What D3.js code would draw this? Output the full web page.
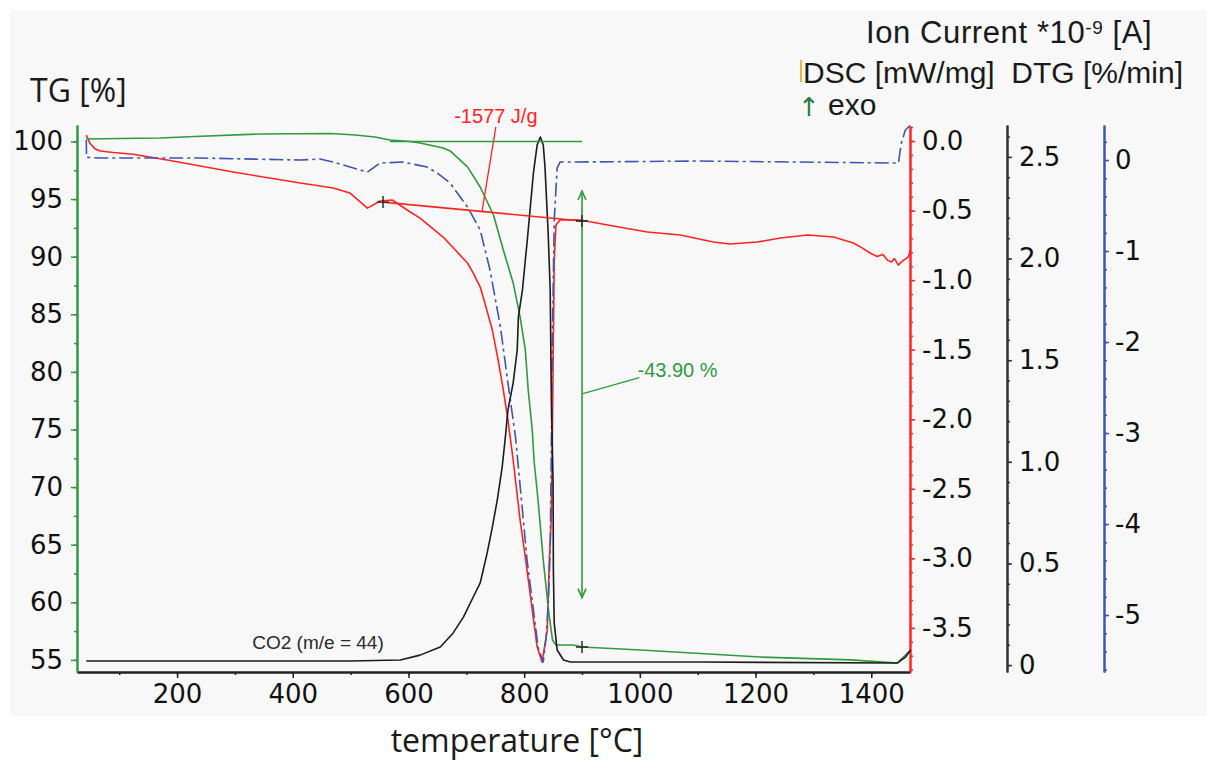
<!DOCTYPE html>
<html>
<head>
<meta charset="utf-8">
<script src="https://cdn.jsdelivr.net/npm/d3@7"></script>
<style>
  body { margin: 0; background: #ffffff; }
  .tick text { font-family: "DejaVu Sans", sans-serif; font-size: 26px; fill: #111; }
</style>
</head>
<body>
<div class="chart"></div>
<script>

// Data (temperature in degC)

var tgTemp = [43, 102, 171, 231, 344, 465, 508, 542, 568, 603, 620, 660, 672, 702, 724, 747, 764, 781, 793, 802, 807, 814, 817, 824, 833, 842, 849, 855, 885, 900, 1001, 1208, 1364, 1445, 1468];
var tgValue = [100.22, 100.26, 100.30, 100.43, 100.65, 100.69, 100.56, 100.39, 100.13, 100.0, 99.87, 99.44, 99.18, 97.79, 96.05, 93.62, 90.58, 87.72, 84.77, 81.90, 78.43, 74.96, 72.35, 68.88, 63.67, 59.33, 56.73, 56.29, 56.29, 56.12, 55.86, 55.25, 55.0, 54.73, 55.86];

var dscTemp = [43, 50, 58, 67, 90, 124, 183, 297, 413, 470, 499, 529, 551, 572, 603, 620, 660, 702, 712, 724, 729, 745, 755, 764, 772, 781, 793, 802, 814, 822.5, 831, 840, 843, 847, 848.5, 850.3, 852, 855, 862, 897, 954, 1013, 1070, 1127, 1156, 1203, 1243, 1290, 1335, 1369, 1385, 1398, 1410, 1420, 1428, 1435, 1440, 1447, 1452, 1456, 1464, 1468];
var dscValue = [0.043, -0.020, -0.055, -0.072, -0.083, -0.095, -0.137, -0.223, -0.302, -0.338, -0.374, -0.482, -0.431, -0.424, -0.510, -0.554, -0.690, -0.877, -0.949, -1.050, -1.120, -1.359, -1.574, -1.790, -2.006, -2.293, -2.725, -2.991, -3.372, -3.638, -3.746, -3.515, -3.063, -2.703, -2.221, -1.503, -0.855, -0.604, -0.568, -0.568, -0.611, -0.654, -0.676, -0.726, -0.740, -0.726, -0.697, -0.676, -0.690, -0.733, -0.770, -0.805, -0.830, -0.815, -0.856, -0.870, -0.845, -0.892, -0.870, -0.856, -0.834, -0.784];

var dtgTemp = [43, 43.5, 67, 240, 413, 447, 470, 499, 529, 551, 591, 632, 650, 672, 702, 724, 741, 759, 772, 785, 797, 805, 816, 824, 833, 838, 842, 845, 847, 848.5, 852, 857, 862, 885, 1104, 1442, 1447, 1452, 1459, 1468];
var dtgValue = [0.22, 0.03, 0.022, 0.022, 0, 0.011, -0.022, -0.077, -0.132, -0.033, -0.022, -0.077, -0.143, -0.253, -0.516, -0.769, -1.209, -1.835, -2.451, -3.044, -3.846, -4.396, -4.945, -5.352, -5.516, -5.242, -4.835, -4.286, -3.187, -2.088, -0.659, -0.088, -0.022, -0.022, -0.011, -0.033, -0.033, 0.187, 0.330, 0.385];

var ionTemp = [43, 153, 326, 499, 586, 620, 655, 677, 695, 712, 724, 736, 745, 753.5, 762, 767, 772, 781, 788, 790, 797, 802, 805, 816, 822.5, 828, 833, 836, 841.5, 845, 847, 850, 850.5, 852, 857, 868, 880, 1104, 1445, 1459, 1468];
var ionValue = [0.020, 0.020, 0.020, 0.020, 0.025, 0.049, 0.089, 0.157, 0.236, 0.335, 0.404, 0.551, 0.679, 0.812, 0.974, 1.107, 1.255, 1.388, 1.550, 1.713, 1.845, 1.993, 2.077, 2.421, 2.559, 2.598, 2.559, 2.451, 2.126, 1.845, 1.304, 0.896, 0.468, 0.207, 0.074, 0.025, 0.015, 0.015, 0.010, 0.039, 0.074];

// Tick values
var tempTicks = [200, 400, 600, 800, 1000, 1200, 1400];
var tgTicks = [55, 60, 65, 70, 75, 80, 85, 90, 95, 100];
var dscTicks = [0, -0.5, -1.0, -1.5, -2.0, -2.5, -3.0, -3.5];
var ionTicks = [0, 0.5, 1.0, 1.5, 2.0, 2.5];
var dtgTicks = [0, -1, -2, -3, -4, -5];

// Annotation texts
var dscPeakArea = "-1577 J/g";
var tgStep = "-43.90 %";
var ionLabel = "CO2 (m/e = 44)";

var svgWidth = 1207;
var svgHeight = 760;

var plot = { left: 77, right: 910, top: 125, bottom: 672 };

var green = "#2f9a3f";
var red = "#ff2424";
var blue = "#4153b4";
var black = "#1c1c1c";

var svg = d3.select(".chart")
    .append("svg")
    .attr("width", svgWidth)
    .attr("height", svgHeight);

svg.append("rect")
    .attr("x", 10)
    .attr("y", 10)
    .attr("width", svgWidth - 10)
    .attr("height", 706)
    .attr("fill", "#f8f8f8");

// Scales

var xScale = d3.scaleLinear().domain([27, 1467]).range([plot.left, plot.right]);
var tgScale = d3.scaleLinear().domain([53.95, 101.43]).range([plot.bottom, plot.top]);
var dscScale = d3.scaleLinear().domain([-3.817, 0.108]).range([plot.bottom, 126]);
var ionScale = d3.scaleLinear().domain([-0.034, 2.657]).range([plot.bottom, plot.top]);
var dtgScale = d3.scaleLinear().domain([-5.626, 0.385]).range([plot.bottom, plot.top]);

// plain hyphen instead of the unicode minus d3 uses
function fmt(spec) {
    var f = d3.format(spec);
    return function(d) { return f(d).replace("\u2212", "-"); };
}

function minorTicks(lo, hi, step) {
    var out = [];
    for (var v = lo; v <= hi + 1e-9; v += step) out.push(+v.toFixed(3));
    return out;
}

function styleAxis(g, color) {
    g.select(".domain").attr("stroke", color).attr("stroke-width", 2);
    g.selectAll(".tick line").attr("stroke", color).attr("stroke-width", 1.5);
}

// Minor ticks first, then the labelled axes

var minorDefs = [
    { axis: d3.axisBottom(xScale).tickValues(minorTicks(100, 1400, 100)), pos: "translate(0," + plot.bottom + ")", color: "#222" },
    { axis: d3.axisLeft(tgScale).tickValues(minorTicks(55, 100, 2.5)), pos: "translate(" + plot.left + ",0)", color: green },
    { axis: d3.axisRight(dscScale).tickValues(minorTicks(-3.8, 0.1, 0.1)), pos: "translate(" + plot.right + ",0)", color: red },
    { axis: d3.axisRight(ionScale).tickValues(minorTicks(0, 2.6, 0.1)), pos: "translate(1007,0)", color: "#333" },
    { axis: d3.axisRight(dtgScale).tickValues(minorTicks(-5.6, 0.2, 0.2)), pos: "translate(1104,0)", color: blue }
];

minorDefs.forEach(function(d) {
    var g = svg.append("g")
        .attr("transform", d.pos)
        .call(d.axis.tickSize(3).tickSizeOuter(0).tickFormat(""));
    styleAxis(g, d.color);
});

var xAxis = svg.append("g")
    .attr("transform", "translate(0," + plot.bottom + ")")
    .call(d3.axisBottom(xScale).tickValues(tempTicks).tickSize(6).tickSizeOuter(0).tickPadding(7).tickFormat(fmt("d")));
styleAxis(xAxis, "#222");

var tgAxis = svg.append("g")
    .attr("transform", "translate(" + plot.left + ",0)")
    .call(d3.axisLeft(tgScale).tickValues(tgTicks).tickSize(6).tickSizeOuter(0).tickPadding(8).tickFormat(fmt("d")));
styleAxis(tgAxis, green);

var dscAxis = svg.append("g")
    .attr("transform", "translate(" + plot.right + ",0)")
    .call(d3.axisRight(dscScale).tickValues(dscTicks).tickSize(5).tickSizeOuter(0).tickPadding(7).tickFormat(fmt(".1f")));
styleAxis(dscAxis, red);

var ionAxis = svg.append("g")
    .attr("transform", "translate(1007,0)")
    .call(d3.axisRight(ionScale).tickValues(ionTicks).tickSize(5).tickSizeOuter(0).tickPadding(7)
        .tickFormat(function(d) { return d === 0 ? "0" : d3.format(".1f")(d); }));
styleAxis(ionAxis, "#333");

var dtgAxis = svg.append("g")
    .attr("transform", "translate(1104,0)")
    .call(d3.axisRight(dtgScale).tickValues(dtgTicks).tickSize(5).tickSizeOuter(0).tickPadding(6).tickFormat(fmt("d")));
styleAxis(dtgAxis, blue);

// Curves

function drawCurve(temps, values, yScale, color, dash) {
    var pts = temps.map(function(t, i) { return [t, values[i]]; });
    var line = d3.line()
        .x(function(d) { return xScale(d[0]); })
        .y(function(d) { return yScale(d[1]); });
    svg.append("path")
        .datum(pts)
        .attr("d", line)
        .attr("fill", "none")
        .attr("stroke", color)
        .attr("stroke-width", 1.6)
        .attr("stroke-linejoin", "round")
        .attr("stroke-dasharray", dash || null);
}

drawCurve(dscTemp, dscValue, dscScale, red);
drawCurve(tgTemp, tgValue, tgScale, green);
drawCurve(dtgTemp, dtgValue, dtgScale, blue, "14,4,3,4");
drawCurve(ionTemp, ionValue, ionScale, black);

// DSC peak integration baseline and label

svg.append("line")
    .attr("x1", xScale(556)).attr("y1", dscScale(-0.439))
    .attr("x2", xScale(900)).attr("y2", dscScale(-0.575))
    .attr("stroke", red).attr("stroke-width", 1.6);

svg.append("line")
    .attr("x1", xScale(727)).attr("y1", dscScale(-0.51))
    .attr("x2", xScale(751)).attr("y2", dscScale(0.1))
    .attr("stroke", red).attr("stroke-width", 1.3);

svg.append("text")
    .attr("x", xScale(679))
    .attr("y", dscScale(0.13))
    .attr("font-family", "Liberation Sans, Arial, sans-serif")
    .attr("font-size", "20px")
    .attr("fill", red)
    .text(dscPeakArea);

// TG step annotation

svg.append("line")
    .attr("x1", xScale(568)).attr("y1", tgScale(100))
    .attr("x2", xScale(900)).attr("y2", tgScale(100))
    .attr("stroke", green).attr("stroke-width", 1.6);

svg.append("line")
    .attr("x1", xScale(900)).attr("y1", tgScale(95.7))
    .attr("x2", xScale(900)).attr("y2", tgScale(60.4))
    .attr("stroke", green).attr("stroke-width", 1.6);

[[95.7, -1], [60.4, 1]].forEach(function(a) {
    var x = xScale(900), y = tgScale(a[0]);
    svg.append("path")
        .attr("d", "M" + (x - 4) + "," + (y - 9 * a[1]) + "L" + x + "," + y + "L" + (x + 4) + "," + (y - 9 * a[1]))
        .attr("fill", "none")
        .attr("stroke", green)
        .attr("stroke-width", 1.6);
});

svg.append("line")
    .attr("x1", xScale(900)).attr("y1", tgScale(78.1))
    .attr("x2", xScale(999)).attr("y2", tgScale(79.5))
    .attr("stroke", green).attr("stroke-width", 1.3);

svg.append("text")
    .attr("x", xScale(996))
    .attr("y", tgScale(79.55))
    .attr("font-family", "Liberation Sans, Arial, sans-serif")
    .attr("font-size", "20px")
    .attr("fill", green)
    .text(tgStep);

// Cross markers

var crosses = [[xScale(556), dscScale(-0.439)], [xScale(900), dscScale(-0.575)], [xScale(900), tgScale(56.12)]];
crosses.forEach(function(c) {
    svg.append("path")
        .attr("d", "M" + (c[0] - 6) + "," + c[1] + "H" + (c[0] + 6) + "M" + c[0] + "," + (c[1] - 6) + "V" + (c[1] + 6))
        .attr("stroke", "#222")
        .attr("stroke-width", 1.4);
});

svg.append("text")
    .attr("x", xScale(330))
    .attr("y", ionScale(0.079))
    .attr("font-family", "Liberation Sans, Arial, sans-serif")
    .attr("font-size", "19px")
    .attr("fill", "#2a2a2a")
    .text(ionLabel);

// Axis titles

svg.append("text")
    .attr("x", 30)
    .attr("y", 102)
    .attr("font-family", "Open Sans, sans-serif")
    .attr("font-size", "32px")
    .attr("fill", "#1a1a1a")
    .text("TG [%]");

svg.append("text")
    .attr("x", 517)
    .attr("y", 752)
    .attr("text-anchor", "middle")
    .attr("font-family", "Open Sans, sans-serif")
    .attr("font-size", "32px")
    .attr("fill", "#1a1a1a")
    .text("temperature [°C]");

var ionTitle = svg.append("text")
    .attr("x", 866)
    .attr("y", 43)
    .attr("font-family", "Liberation Sans, Arial, sans-serif")
    .attr("font-size", "31px")
    .attr("letter-spacing", "0.6px")
    .attr("fill", "#1a1a1a");
ionTitle.append("tspan").text("Ion Current *10");
ionTitle.append("tspan").attr("dy", -9).attr("font-size", "19px").text("-9");
ionTitle.append("tspan").attr("dy", 9).text(" [A]");

svg.append("rect")
    .attr("x", 800).attr("y", 60).attr("width", 2).attr("height", 22)
    .attr("fill", "#f2b448");

svg.append("text")
    .attr("x", 803)
    .attr("y", 83)
    .attr("font-family", "Liberation Sans, Arial, sans-serif")
    .attr("font-size", "30px")
    .attr("fill", "#1a1a1a")
    .attr("xml:space", "preserve")
    .text("DSC [mW/mg]  DTG [%/min]");

svg.append("text")
    .attr("x", 798)
    .attr("y", 116)
    .attr("font-family", "DejaVu Sans, sans-serif")
    .attr("font-size", "26px")
    .attr("fill", "#2a7a4a")
    .text("↑");

svg.append("text")
    .attr("x", 828)
    .attr("y", 115)
    .attr("font-family", "Liberation Sans, Arial, sans-serif")
    .attr("font-size", "30px")
    .attr("fill", "#1a1a1a")
    .text("exo");

</script>
</body>
</html>
